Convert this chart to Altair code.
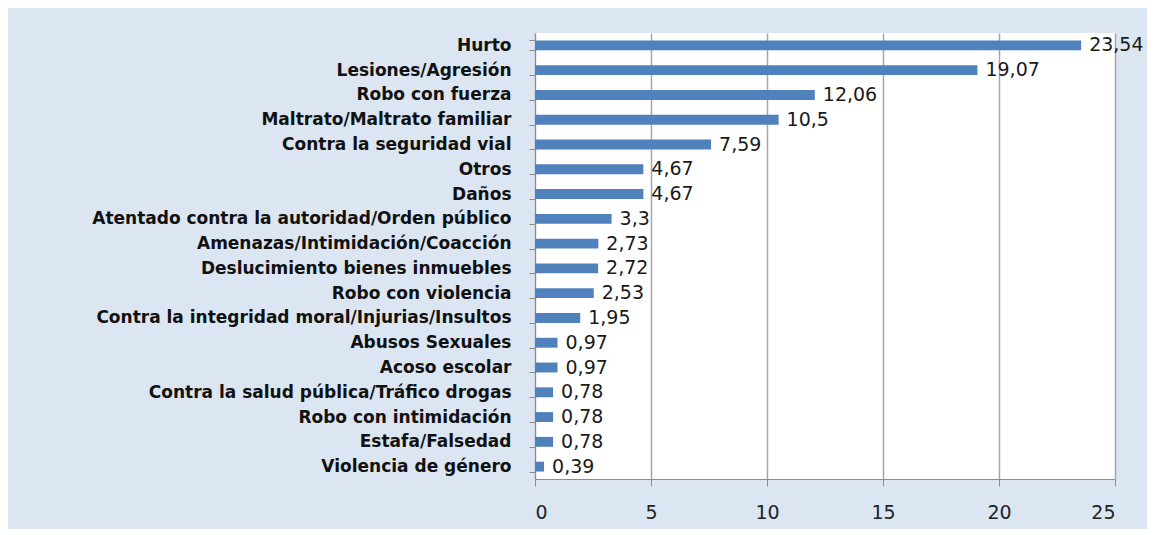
import altair as alt
import pandas as pd

categories = [
    "Hurto", "Lesiones/Agresión", "Robo con fuerza", "Maltrato/Maltrato familiar",
    "Contra la seguridad vial", "Otros", "Daños",
    "Atentado contra la autoridad/Orden público",
    "Amenazas/Intimidación/Coacción", "Deslucimiento bienes inmuebles",
    "Robo con violencia", "Contra la integridad moral/Injurias/Insultos",
    "Abusos Sexuales", "Acoso escolar", "Contra la salud pública/Tráfico drogas",
    "Robo con intimidación", "Estafa/Falsedad", "Violencia de género",
]
values = [23.54, 19.07, 12.06, 10.5, 7.59, 4.67, 4.67, 3.3, 2.73, 2.72, 2.53,
          1.95, 0.97, 0.97, 0.78, 0.78, 0.78, 0.39]
x_ticks = [0, 5, 10, 15, 20, 25]

df = pd.DataFrame({
    "cat": categories,
    "val": values,
    "label": [str(v).replace(".", ",") for v in values],
})

y_enc = alt.Y(
    "cat:N", sort=categories, title=None,
    scale=alt.Scale(paddingInner=0.6, paddingOuter=0.3),
    axis=alt.Axis(
        tickBand="extent", domainColor="#8c8c8c", tickColor="#8c8c8c",
        tickSize=6, labelFont="DejaVu Sans", labelFontWeight="bold",
        labelFontSize=17, labelColor="#111111", labelPadding=18,
        labelLimit=600,
    ),
)
x_enc = alt.X(
    "val:Q", title=None,
    scale=alt.Scale(domain=[0, 25], nice=False),
    axis=alt.Axis(
        values=x_ticks, grid=True, gridColor="#a6a6a6", gridWidth=1.5,
        domainColor="#8c8c8c", tickColor="#8c8c8c", tickSize=7,
        labelFont="DejaVu Sans", labelFontSize=19, labelColor="#222222",
        labelPadding=17,
    ),
)

bars = alt.Chart(df).mark_bar(color="#4f81bd").encode(x=x_enc, y=y_enc)
text = alt.Chart(df).mark_text(
    align="left", baseline="middle", dx=8, font="DejaVu Sans",
    fontSize=19, color="#1a1a1a",
).encode(x="val:Q", y=alt.Y("cat:N", sort=categories), text="label:N")

chart = (bars + text).properties(
    width=580, height=446,
    background="#dce6f2",
    autosize=alt.AutoSizeParams(type="none"),
    padding={"left": 527, "top": 25, "right": 32, "bottom": 50},
).configure_view(fill="white", stroke=None)

chart.save("out.html", embed_options={"renderer": "svg", "actions": False})
